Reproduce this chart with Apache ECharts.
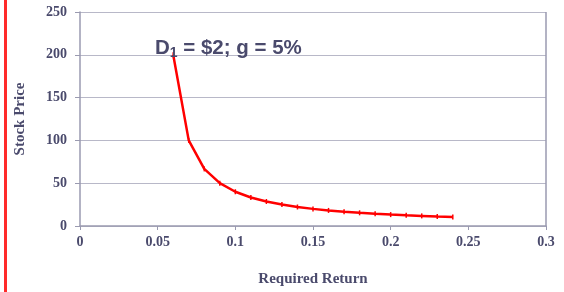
<!DOCTYPE html>
<html>
<head>
<meta charset="utf-8">
<script src="https://cdn.jsdelivr.net/npm/echarts@6/dist/echarts.min.js"></script>
<style>
  html, body { margin: 0; padding: 0; background: #fff; }
  #chart { width: 564px; height: 292px; }
</style>
</head>
<body>
<div id="chart"></div>
<script>
// required return (x) and stock price (y)
var returns = [0.06, 0.07, 0.08, 0.09, 0.10, 0.11, 0.12, 0.13, 0.14, 0.15,
               0.16, 0.17, 0.18, 0.19, 0.20, 0.21, 0.22, 0.23, 0.24];
var prices  = [200, 100, 66.7, 50, 40, 33.3, 28.6, 25, 22.2, 20,
               18.2, 16.7, 15.4, 14.3, 13.3, 12.5, 11.8, 11.1, 10.5];
var yTicks = [0, 50, 100, 150, 200, 250];
var xTicks = [0, 0.05, 0.1, 0.15, 0.2, 0.25, 0.3];

var textColor = '#4a4a6c';
var lineColor = '#9a9ab0';

var points = [];
for (var i = 0; i < returns.length; i++) {
    points.push([returns[i], prices[i]]);
}

var chart = echarts.init(document.getElementById('chart'));
var option = {
    animation: false,
    grid: { left: 80, right: 18, top: 12, bottom: 64 },
    title: {
        text: 'D{sub|1} = $2; g = 5%',
        left: 150, top: 31,
        textStyle: {
            fontFamily: 'Liberation Sans', fontSize: 20.5, fontWeight: 'bold', color: textColor,
            rich: { sub: { fontFamily: 'Liberation Sans', fontSize: 14, fontWeight: 'bold', color: textColor, verticalAlign: 'bottom', padding: [10, 0, 0, 0] } }
        }
    },
    graphic: [
        { type: 'rect', shape: { x: 4, y: 0, width: 3, height: 292 }, style: { fill: '#ff2a2a' } }
    ],
    xAxis: {
        type: 'value', min: 0, max: 0.3, interval: 0.05,
        name: 'Required Return', nameLocation: 'middle', nameGap: 46,
        nameTextStyle: { fontFamily: 'Liberation Serif', fontSize: 15, fontWeight: 'bold', color: textColor },
        axisLine: { lineStyle: { color: lineColor, width: 1.5 } },
        axisTick: { show: true, length: 4, lineStyle: { color: lineColor } },
        axisLabel: {
            fontFamily: 'Liberation Serif', fontSize: 14, fontWeight: 'bold', color: textColor, margin: 9,
            formatter: function (v) { return xTicks.indexOf(+v.toFixed(2)) >= 0 ? String(+v.toFixed(2)) : ''; }
        },
        splitLine: { show: false }
    },
    yAxis: {
        type: 'value', min: 0, max: 250, interval: 50,
        name: 'Stock Price', nameLocation: 'middle', nameGap: 52, nameRotate: 90,
        nameTextStyle: { fontFamily: 'Liberation Serif', fontSize: 15, fontWeight: 'bold', color: textColor },
        axisLine: { show: true, lineStyle: { color: lineColor, width: 1.5 } },
        axisTick: { show: true, length: 5, lineStyle: { color: lineColor } },
        axisLabel: { fontFamily: 'Liberation Serif', fontSize: 14, fontWeight: 'bold', color: textColor, margin: 13 },
        splitLine: { show: true, lineStyle: { color: '#b8b8c8', width: 1 } }
    },
    series: [
        {
            type: 'line', data: points,
            symbol: 'rect', symbolSize: [1.5, 5], showSymbol: true,
            itemStyle: { color: '#ff0000' },
            lineStyle: { color: '#ff0000', width: 2.5 }
        },
        {
            // right border of the plot area
            type: 'line', data: [], silent: true,
            markLine: {
                symbol: 'none', silent: true, label: { show: false },
                lineStyle: { color: lineColor, width: 1.5, type: 'solid' },
                data: [[{ coord: [0.3, 0] }, { coord: [0.3, 250] }]]
            }
        }
    ]
};
chart.setOption(option);
</script>
</body>
</html>
